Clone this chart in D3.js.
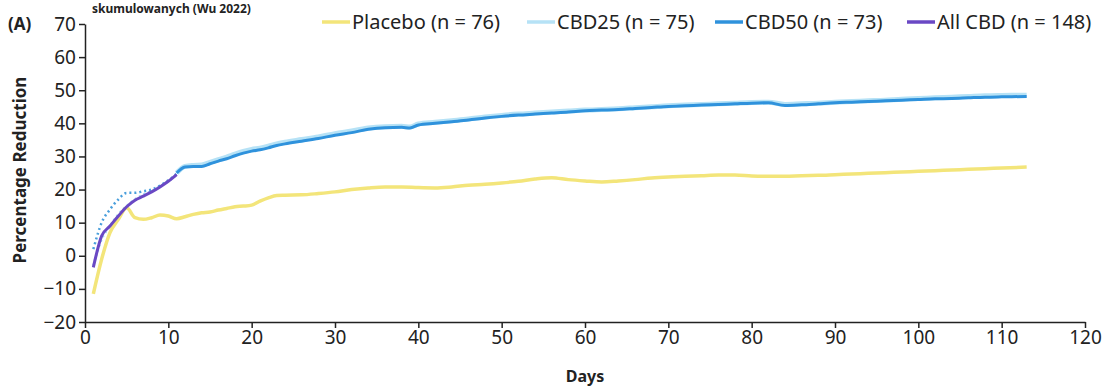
<!DOCTYPE html>
<html>
<head>
<meta charset="utf-8">
<script src="https://cdn.jsdelivr.net/npm/d3@7"></script>
<style>
  body { margin: 0; background: #fff; }
  text { font-family: "Noto Sans", "Open Sans", sans-serif; fill: #222; }
  .axis text { font-size: 19px; }
  .axis path, .axis line { stroke: #222; stroke-width: 1.5; }
</style>
</head>
<body>
<div id="chart"></div>
<script>
// data
var earlyDays = [1, 2, 3, 4, 5, 6, 7, 8, 9, 10, 11];
var lateDays = [11, 12, 13, 14, 15, 16, 17, 18, 19, 20, 21, 22, 23, 24, 26, 28, 30, 32, 34, 36, 38, 39, 40, 42, 44, 46, 48, 50,
  52, 54, 56, 58, 60, 62, 64, 66, 68, 70, 72, 74, 76, 78, 80, 82, 84, 86, 88, 90, 92, 94, 96, 98, 100, 102, 104, 106, 108, 110, 113];
var placeboDays = [1, 2, 3, 4, 5, 6, 7, 8, 9, 10, 11, 12, 13, 14, 15, 16, 17, 18, 19, 20, 21, 22, 23, 24, 26, 28, 30, 32, 34, 36, 38,
  40, 42, 44, 46, 48, 50, 52, 54, 56, 58, 60, 62, 64, 66, 68, 70, 72, 74, 76, 78, 80, 82, 84, 86, 88, 90, 92, 94, 96, 98, 100,
  102, 104, 106, 108, 110, 113];

var placebo = [-11.5, -1, 7, 11, 14.5, 11.5, 11, 11.5, 12.3, 12, 11.2, 11.8, 12.5, 13, 13.2, 13.8, 14.3, 14.8, 15, 15.3, 16.5,
  17.5, 18.2, 18.3, 18.4, 18.8, 19.3, 20, 20.5, 20.8, 20.8, 20.6, 20.5, 20.8, 21.3, 21.6, 22, 22.5, 23.2, 23.6, 23, 22.6,
  22.3, 22.6, 23, 23.5, 23.8, 24, 24.2, 24.4, 24.4, 24.1, 24, 24, 24.2, 24.3, 24.5, 24.7, 24.9, 25.1, 25.3, 25.5, 25.7, 25.9,
  26.1, 26.3, 26.5, 26.8];

var cbd25Early = [-3, 5, 9, 12.5, 15, 17, 18.5, 19.5, 21, 22.5, 24.5];
var cbd50Early = [2, 10, 14, 17, 19, 19, 19.5, 20, 21.2, 22.8, 24.8];
var allCbd = [-3.5, 6, 9, 12, 14.8, 16.8, 18, 19.3, 20.8, 22.5, 24.5];

var cbd25 = [25, 27, 27.3, 27.4, 28.2, 29, 29.8, 30.7, 31.5, 32.1, 32.5, 33.1, 33.8, 34.3, 35.1, 35.9, 36.9, 37.7, 38.6, 39,
  39.1, 38.9, 39.8, 40.3, 40.8, 41.3, 41.9, 42.4, 42.8, 43.1, 43.4, 43.7, 44, 44.2, 44.4, 44.7, 45, 45.3, 45.5, 45.7, 45.9,
  46.1, 46.3, 46.4, 45.7, 45.9, 46.1, 46.4, 46.6, 46.8, 47, 47.3, 47.5, 47.7, 47.9, 48.1, 48.3, 48.4, 48.5];
var cbd50 = [25, 26.8, 27, 27, 27.8, 28.6, 29.3, 30.2, 31, 31.6, 32, 32.6, 33.3, 33.8, 34.6, 35.4, 36.4, 37.2, 38.2, 38.7,
  38.8, 38.6, 39.5, 40, 40.5, 41, 41.6, 42.1, 42.5, 42.8, 43.1, 43.4, 43.8, 44, 44.2, 44.5, 44.8, 45.1, 45.3, 45.5, 45.7,
  45.9, 46.1, 46.2, 45.4, 45.6, 45.9, 46.2, 46.4, 46.6, 46.8, 47, 47.2, 47.4, 47.5, 47.7, 47.9, 48, 48.1];

var xTicks = d3.range(0, 121, 10);
var yTicks = d3.range(-20, 71, 10);

var legendItems = [
  { label: "Placebo (n = 76)", color: "#f3e57a", x: 322 },
  { label: "CBD25 (n = 75)", color: "#b6e2f6", x: 527 },
  { label: "CBD50 (n = 73)", color: "#2f92dc", x: 715 },
  { label: "All CBD (n = 148)", color: "#6a48c4", x: 907 }
];

var svgWidth = 1107;
var svgHeight = 389;
var margin = { top: 24, right: 22, bottom: 67, left: 85 };
var width = svgWidth - margin.left - margin.right;
var height = svgHeight - margin.top - margin.bottom;

var svg = d3.select("#chart")
  .append("svg")
  .attr("width", svgWidth)
  .attr("height", svgHeight);

var chartGroup = svg.append("g")
  .attr("transform", `translate(${margin.left}, ${margin.top})`);

var x = d3.scaleLinear().domain([0, 120]).range([0, width]);
var y = d3.scaleLinear().domain([-20, 70]).range([height, 0]);

// axes
chartGroup.append("g")
  .attr("class", "axis")
  .attr("transform", `translate(0, ${height})`)
  .call(d3.axisBottom(x).tickValues(xTicks).tickSize(6).tickSizeOuter(0).tickPadding(3));

chartGroup.append("g")
  .attr("class", "axis")
  .call(d3.axisLeft(y).tickValues(yTicks).tickSize(6).tickSizeOuter(0).tickPadding(3)
    .tickFormat(d => d < 0 ? "\u2212" + Math.abs(d) : d));

// lines
var line = d3.line()
  .x(d => x(d[0]))
  .y(d => y(d[1]))
  .curve(d3.curveMonotoneX);

function pairs(days, vals) {
  return days.map((d, i) => [d, vals[i]]);
}

chartGroup.append("path")
  .datum(pairs(earlyDays, cbd25Early))
  .attr("fill", "none")
  .attr("stroke", "#9fd8f2")
  .attr("stroke-width", 2.5)
  .attr("stroke-dasharray", "2,3")
  .attr("d", line);

chartGroup.append("path")
  .datum(pairs(earlyDays, cbd50Early))
  .attr("fill", "none")
  .attr("stroke", "#4a9fdc")
  .attr("stroke-width", 2.5)
  .attr("stroke-dasharray", "2,3")
  .attr("d", line);

chartGroup.append("path")
  .datum(pairs(placeboDays, placebo))
  .attr("fill", "none")
  .attr("stroke", legendItems[0].color)
  .attr("stroke-width", 3.5)
  .attr("d", line);

chartGroup.append("path")
  .datum(pairs(lateDays, cbd25))
  .attr("fill", "none")
  .attr("stroke", legendItems[1].color)
  .attr("stroke-width", 5)
  .attr("d", line);

chartGroup.append("path")
  .datum(pairs(lateDays, cbd50))
  .attr("fill", "none")
  .attr("stroke", legendItems[2].color)
  .attr("stroke-width", 3)
  .attr("d", line);

chartGroup.append("path")
  .datum(pairs(earlyDays, allCbd))
  .attr("fill", "none")
  .attr("stroke", legendItems[3].color)
  .attr("stroke-width", 3)
  .attr("d", line);

// legend
var legend = svg.selectAll(".legend")
  .data(legendItems)
  .enter()
  .append("g")
  .attr("class", "legend")
  .attr("transform", d => `translate(${d.x}, 22)`);

legend.append("line")
  .attr("x1", 0).attr("x2", 28)
  .attr("stroke", d => d.color)
  .attr("stroke-width", 3.5);

legend.append("text")
  .attr("x", 30)
  .attr("dy", "0.35em")
  .attr("font-size", "20px")
  .text(d => d.label);

// labels (the cropped heading is kept, moved clear of the edge and the axis)
svg.append("text")
  .attr("x", 92)
  .attr("y", 13)
  .attr("font-size", "12px")
  .attr("font-weight", "bold")
  .text("skumulowanych (Wu 2022)");

svg.append("text")
  .attr("x", 8)
  .attr("y", 30)
  .attr("font-size", "17px")
  .attr("font-weight", "bold")
  .text("(A)");

svg.append("text")
  .attr("transform", "rotate(-90)")
  .attr("x", -170)
  .attr("y", 26)
  .attr("text-anchor", "middle")
  .attr("font-size", "17px")
  .attr("font-weight", "bold")
  .text("Percentage Reduction");

svg.append("text")
  .attr("x", margin.left + x(60))
  .attr("y", 382)
  .attr("text-anchor", "middle")
  .attr("font-size", "16px")
  .attr("font-weight", "bold")
  .text("Days");
</script>
</body>
</html>
